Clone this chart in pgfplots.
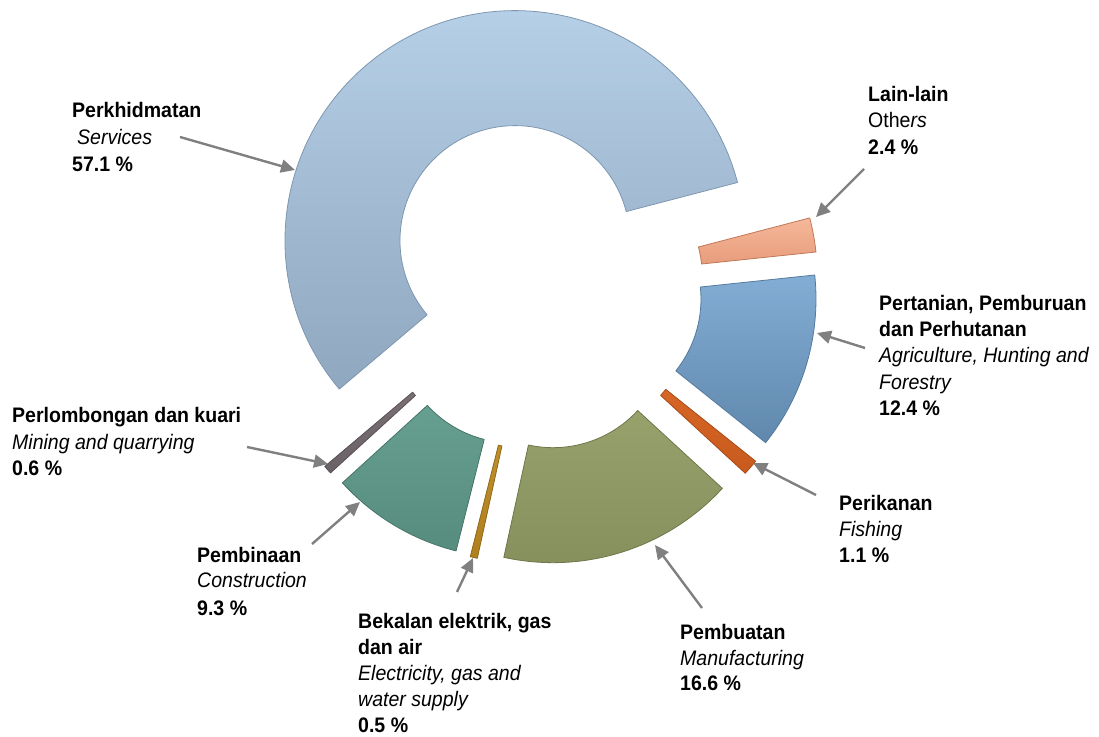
\documentclass[border=0pt]{standalone}
\usepackage{fontspec}
\setmainfont{Liberation Sans}[FakeStretch=0.93]
\usepackage{pgfplots}
\pgfplotsset{compat=1.18}
\usetikzlibrary{arrows.meta}

\definecolor{servT}{HTML}{B8D2EA}\definecolor{servB}{HTML}{8FA7BF}\definecolor{servD}{HTML}{7E97B0}
\definecolor{othT}{HTML}{F5B89A}\definecolor{othB}{HTML}{E0906E}\definecolor{othD}{HTML}{C07858}
\definecolor{agrT}{HTML}{84ADD5}\definecolor{agrB}{HTML}{6088AD}\definecolor{agrD}{HTML}{557A9C}
\definecolor{fisT}{HTML}{E8752F}\definecolor{fisB}{HTML}{C85A1E}\definecolor{fisD}{HTML}{A84A18}
\definecolor{manT}{HTML}{A5AF78}\definecolor{manB}{HTML}{858F5C}\definecolor{manD}{HTML}{6E774A}
\definecolor{eleT}{HTML}{D4A43A}\definecolor{eleB}{HTML}{B08020}\definecolor{eleD}{HTML}{8E6818}
\definecolor{conT}{HTML}{74AE9F}\definecolor{conB}{HTML}{568C7E}\definecolor{conD}{HTML}{467468}
\definecolor{minT}{HTML}{8A8186}\definecolor{minB}{HTML}{6A6267}\definecolor{minD}{HTML}{585055}
\definecolor{arrowgray}{HTML}{808080}

% #1 cumulative share before the slice (%), #2 share (%), #3-#5 colours
% start angle 6 deg, clockwise, inner radius 115, outer radius 230, explosion 50
\newcommand{\slice}[5]{%
  \path[overlay, top color=#3, bottom color=#4, draw=#5, line width=0.8pt, line join=round]
    (axis cs:538,451) ++({6-3.6*(#1+#2/2)}:50pt) ++({6-3.6*(#1)}:115pt)
    -- ++({6-3.6*(#1)}:115pt)
    arc[start angle={6-3.6*(#1)}, end angle={6-3.6*(#1+#2)}, radius=230pt]
    -- ++({6-3.6*(#1+#2)+180}:115pt)
    arc[start angle={6-3.6*(#1+#2)}, end angle={6-3.6*(#1)}, radius=115pt]
    -- cycle;}

\tikzset{
  lbl/.style={anchor=base west, inner sep=0pt, font=\fontsize{21}{24}\selectfont},
  lbb/.style={lbl, font=\fontsize{21}{24}\selectfont\bfseries},
  lbi/.style={lbl, font=\fontsize{21}{24}\selectfont\itshape},
  arr/.style={overlay, draw=arrowgray, line width=2.4pt, -{Triangle[length=14pt,width=13pt]}, arrowgray}
}

\begin{document}
\begin{tikzpicture}
\begin{axis}[x=1pt, y=1pt, xmin=0, xmax=1099, ymin=0, ymax=736,
  hide axis, clip=false, enlargelimits=false]
\path (axis cs:0,0) rectangle (axis cs:1099,736);

% slices (cumulative %, share %)
\slice{0}{12.4}{agrT}{agrB}{agrD}     % Agriculture
\slice{12.4}{1.1}{fisT}{fisB}{fisD}   % Fishing
\slice{13.5}{16.6}{manT}{manB}{manD}  % Manufacturing
\slice{30.1}{0.5}{eleT}{eleB}{eleD}   % Electricity
\slice{30.6}{9.3}{conT}{conB}{conD}   % Construction
\slice{39.9}{0.6}{minT}{minB}{minD}   % Mining
\slice{40.5}{57.1}{servT}{servB}{servD} % Services
\slice{97.6}{2.4}{othT}{othB}{othD}   % Others

% arrows
\draw[arr] (axis cs:180,599) -- (axis cs:295,566);
\draw[arr] (axis cs:864,567) -- (axis cs:816,519);
\draw[arr] (axis cs:865,388) -- (axis cs:817,403);
\draw[arr] (axis cs:816,241) -- (axis cs:753,273);
\draw[arr] (axis cs:702,128) -- (axis cs:655,191);
\draw[arr] (axis cs:457,144) -- (axis cs:473,178);
\draw[arr] (axis cs:312,192) -- (axis cs:360,234);
\draw[arr] (axis cs:247,289) -- (axis cs:328,272);

% labels
\node[lbb] at (axis cs:72,618) {Perkhidmatan};
\node[lbi] at (axis cs:77,591) {Services};
\node[lbb] at (axis cs:72,564) {57.1 \%};

\node[lbb] at (axis cs:868,634) {Lain-lain};
\node[lbl] at (axis cs:868,608) {Othe\textit{rs}};
\node[lbb] at (axis cs:868,581) {2.4 \%};

\node[lbb] at (axis cs:879,425) {Pertanian, Pemburuan};
\node[lbb] at (axis cs:879,399) {dan Perhutanan};
\node[lbi] at (axis cs:879,373) {Agriculture, Hunting and};
\node[lbi] at (axis cs:879,346) {Forestry};
\node[lbb] at (axis cs:879,320) {12.4 \%};

\node[lbb] at (axis cs:839,225) {Perikanan};
\node[lbi] at (axis cs:839,199) {Fishing};
\node[lbb] at (axis cs:839,173) {1.1 \%};

\node[lbb] at (axis cs:680,97) {Pembuatan};
\node[lbi] at (axis cs:680,71) {Manufacturing};
\node[lbb] at (axis cs:680,46) {16.6 \%};

\node[lbb] at (axis cs:358,108) {Bekalan elektrik, gas};
\node[lbb] at (axis cs:358,82) {dan air};
\node[lbi] at (axis cs:358,56) {Electricity, gas and};
\node[lbi] at (axis cs:358,30) {water supply};
\node[lbb] at (axis cs:358,4) {0.5 \%};

\node[lbb] at (axis cs:197,173) {Pembinaan};
\node[lbi] at (axis cs:197,148) {Construction};
\node[lbb] at (axis cs:197,121) {9.3 \%};

\node[lbb] at (axis cs:12,313) {Perlombongan dan kuari};
\node[lbi] at (axis cs:12,286) {Mining and quarrying};
\node[lbb] at (axis cs:12,260) {0.6 \%};
\end{axis}
\end{tikzpicture}
\end{document}
